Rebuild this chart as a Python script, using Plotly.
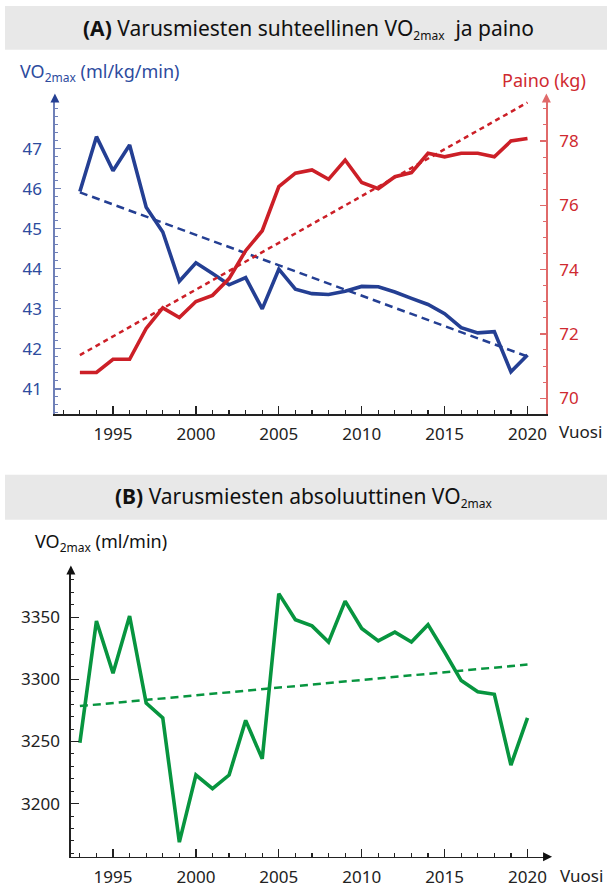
import plotly.graph_objects as go

W, H = 608, 888

years = list(range(1993, 2021))
vo2_rel = [45.93, 47.30, 46.45, 47.09, 45.54, 44.92, 43.69, 44.15, 43.88, 43.60,
           43.78, 43.00, 43.99, 43.49, 43.38, 43.36, 43.44, 43.56, 43.55, 43.42,
           43.26, 43.11, 42.88, 42.53, 42.40, 42.43, 41.43, 41.85]
paino = [70.80, 70.80, 71.21, 71.21, 72.17, 72.81, 72.51, 73.01, 73.20, 73.72,
         74.59, 75.21, 76.58, 77.00, 77.10, 76.81, 77.41, 76.71, 76.52, 76.89,
         77.02, 77.62, 77.51, 77.62, 77.62, 77.51, 78.00, 78.08]
vo2_abs = [3249, 3347, 3305, 3351, 3281, 3269, 3169, 3223, 3212, 3223,
           3267, 3236, 3369, 3348, 3343, 3330, 3363, 3341, 3331, 3338,
           3330, 3344, 3322, 3299, 3290, 3288, 3231, 3269]

trend_years = [1993, 2020]
vo2_rel_trend = [45.91, 41.81]
paino_trend = [71.34, 79.20]
vo2_abs_trend = [3278.5, 3311.9]

left_ticks = [41, 42, 43, 44, 45, 46, 47]
right_ticks = [70, 72, 74, 76, 78]
abs_ticks = [3200, 3250, 3300, 3350]
year_ticks = [1995, 2000, 2005, 2010, 2015, 2020]

BLUE = "#243f93"
BLUE_TXT = "#2d4b9e"
BLUE_AX = "#6f80b8"
RED = "#cc1f27"
RED_TXT = "#cf2a30"
RED_AX = "#e06a6a"
GREEN = "#07953f"
FONT = "Noto Sans"
SUB = "<sub><span style='font-size:12px'>2max</span></sub>"


def px(x):
    return x / W


def py(y):
    return 1 - y / H


fig = go.Figure()

# Panel A
fig.add_trace(go.Scatter(x=trend_years, y=vo2_rel_trend, mode="lines", xaxis="x", yaxis="y",
                         line=dict(color=BLUE, width=2.5, dash="8px,5px"), hoverinfo="skip"))
fig.add_trace(go.Scatter(x=years, y=vo2_rel, mode="lines", xaxis="x", yaxis="y",
                         line=dict(color=BLUE, width=3.6)))
fig.add_trace(go.Scatter(x=trend_years, y=paino_trend, mode="lines", xaxis="x", yaxis="y2",
                         line=dict(color=RED, width=2.5, dash="5px,4px"), hoverinfo="skip"))
fig.add_trace(go.Scatter(x=years, y=paino, mode="lines", xaxis="x", yaxis="y2",
                         line=dict(color=RED, width=3.6)))

# Panel B
fig.add_trace(go.Scatter(x=trend_years, y=vo2_abs_trend, mode="lines", xaxis="x2", yaxis="y3",
                         line=dict(color=GREEN, width=2.5, dash="8px,5px"), hoverinfo="skip"))
fig.add_trace(go.Scatter(x=years, y=vo2_abs, mode="lines", xaxis="x2", yaxis="y3",
                         line=dict(color=GREEN, width=3.6)))

tickfont = dict(family=FONT, size=17, color="#222")

xa_top_l, xa_top_r = 55, 547.3
ya_top_t, ya_top_b = 98, 416
xb_l, xb_r = 71, 547.3
yb_t, yb_b = 575, 860.7

fig.update_layout(
    width=W, height=H, margin=dict(l=0, r=0, t=0, b=0),
    paper_bgcolor="white", plot_bgcolor="white", showlegend=False,
    font=dict(family=FONT, size=17, color="#222"),
    xaxis=dict(domain=[px(xa_top_l), px(xa_top_r)], range=[1991.494, 2021.14], anchor="y",
               tickmode="array", tickvals=year_ticks, ticks="inside", ticklen=8, tickwidth=1.2,
               tickcolor="#222", showline=True, linecolor="#222", linewidth=1.5,
               showgrid=False, zeroline=False, tickfont=tickfont, ticklabelstandoff=4,
               minor=dict(tickmode="array", tickvals=list(range(1992, 2021)), ticks="inside",
                          ticklen=4, tickcolor="#222", tickwidth=1.2, showgrid=False)),
    yaxis=dict(domain=[py(ya_top_b), py(ya_top_t)], range=[40.371, 48.276], anchor="x",
               tickmode="array", tickvals=left_ticks, ticks="inside", ticklen=6, tickwidth=1.2,
               tickcolor=BLUE_AX, showline=True, linecolor=BLUE_AX, linewidth=1.5,
               showgrid=False, zeroline=False, ticklabelstandoff=8,
               tickfont=dict(family=FONT, size=17, color=BLUE_TXT),
               minor=dict(dtick=0.2, tick0=41, ticks="inside", ticklen=3, tickcolor=BLUE_AX,
                          tickwidth=1, showgrid=False)),
    yaxis2=dict(overlaying="y", side="right", range=[69.505, 79.353], anchor="x",
                tickmode="array", tickvals=right_ticks, ticks="inside", ticklen=6, tickwidth=1.2,
                tickcolor=RED_AX, showline=True, linecolor=RED_AX, linewidth=1.5,
                showgrid=False, zeroline=False, ticklabelstandoff=8,
                tickfont=dict(family=FONT, size=17, color=RED_TXT),
                minor=dict(dtick=0.5, tick0=70, ticks="inside", ticklen=3, tickcolor=RED_AX,
                           tickwidth=1, showgrid=False)),
    xaxis2=dict(domain=[px(xb_l), px(xb_r)], range=[1992.458, 2021.14], anchor="y3",
                tickmode="array", tickvals=year_ticks, ticks="inside", ticklen=8, tickwidth=1.2,
                tickcolor="#222", showline=True, linecolor="#222", linewidth=1.5,
                showgrid=False, zeroline=False, tickfont=tickfont, ticklabelstandoff=4,
                minor=dict(tickmode="array", tickvals=list(range(1993, 2021)), ticks="inside",
                           ticklen=4, tickcolor="#222", tickwidth=1.2, showgrid=False)),
    yaxis3=dict(domain=[py(yb_b), py(yb_t)], range=[3157.2, 3386.06], anchor="x2",
                tickmode="array", tickvals=abs_ticks, ticks="inside", ticklen=8, tickwidth=1.2,
                tickcolor="#222", showline=True, linecolor="#222", linewidth=1.5,
                showgrid=False, zeroline=False, tickfont=tickfont, ticklabelstandoff=6,
                minor=dict(dtick=10, tick0=3200, ticks="inside", ticklen=3, tickcolor="#222",
                           tickwidth=1, showgrid=False)),
)

# Title bands
for (y0, y1) in [(6, 50), (477, 522)]:
    fig.add_shape(type="rect", xref="paper", yref="paper", x0=px(5), x1=1, y0=py(y1), y1=py(y0),
                  fillcolor="#e8e8e8", line=dict(width=0), layer="below")

ann = []
ann.append(dict(text="<b>(A)</b> Varusmiesten suhteellinen VO" + SUB + "  ja paino",
                x=px(309), y=py(29), font=dict(size=21, color="#111")))
ann.append(dict(text="<b>(B)</b> Varusmiesten absoluuttinen VO" + SUB,
                x=px(304), y=py(499), font=dict(size=21, color="#111")))
ann.append(dict(text="VO" + SUB + " (ml/kg/min)", x=px(18), y=py(73), xanchor="left",
                font=dict(size=18, color=BLUE_TXT)))
ann.append(dict(text="Paino (kg)", x=px(589), y=py(80), xanchor="right",
                font=dict(size=18, color=RED_TXT)))
ann.append(dict(text="VO" + SUB + " (ml/min)", x=px(33), y=py(545), xanchor="left",
                font=dict(size=18, color="#111")))
ann.append(dict(text="Vuosi", x=px(558), y=py(433), xanchor="left",
                font=dict(size=17, color="#222")))
ann.append(dict(text="Vuosi", x=px(559), y=py(879), xanchor="left",
                font=dict(size=17, color="#222")))
for a in ann:
    a.update(xref="paper", yref="paper", showarrow=False, yanchor="middle")
    a.setdefault("xanchor", "center")
    a["font"].setdefault("family", FONT)
    fig.add_annotation(**a)

# Axis arrows
arrows = [
    (55, 94, 0, 8, BLUE),
    (547.3, 94, 0, 8, RED_AX),
    (71, 568, 0, 10, "#111"),
    (553, 860.7, -10, 0, "#111"),
]
for (x, y, ax, ay, c) in arrows:
    fig.add_annotation(x=px(x), y=py(y), xref="paper", yref="paper", text="",
                       showarrow=True, ax=ax, ay=ay, axref="pixel", ayref="pixel",
                       arrowhead=2, arrowsize=1.2, arrowwidth=1.5, arrowcolor=c)

fig.write_html("out.html", config={"displayModeBar": False, "staticPlot": True},
               post_script="document.body.style.margin='0';document.body.style.overflow='hidden';")
